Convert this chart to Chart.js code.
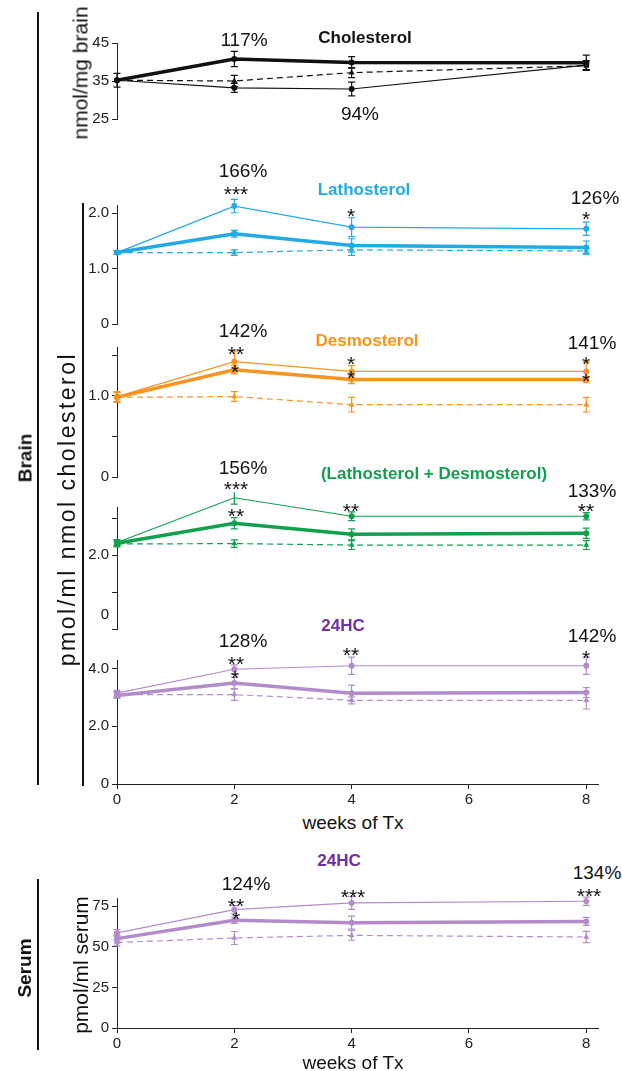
<!DOCTYPE html>
<html lang="en">
<head>
  <meta charset="UTF-8" />
  <title>Sterols over weeks of Tx</title>
  <script src="https://cdn.jsdelivr.net/npm/chart.js"></script>
  <style>
    html, body { margin: 0; padding: 0; background: #fff; }
    #page { position: relative; width: 622px; height: 1071px; overflow: hidden;
            font-family: "Liberation Sans", Arial, sans-serif; color: #111; }
    canvas { position: absolute; left: 0; }
    .t { position: absolute; white-space: nowrap; line-height: 1; transform: translate(-50%, -50%); }
    .pct { font-size: 19px; }
    .star { font-size: 21px; margin-top: 5px; }
    .ttl { font-size: 17px; font-weight: bold; }
    .ax { font-size: 19px; }
    .ax2 { font-size: 21px; }
    .wide { font-size: 23px; letter-spacing: 2.5px; }
    .rot { transform: translate(-50%, -50%) rotate(-90deg); }
    .side { font-size: 19px; font-weight: bold; }
    .vl { position: absolute; width: 1.5px; background: #111; }
  </style>
</head>
<body>
<div id="page"></div>

<script>
  // weeks of treatment
  const weeks = [0, 2, 4, 8];

  // Brain cholesterol (nmol/mg brain)
  const cholThick = [35.2, 40.8, 39.9, 39.8];
  const cholThickErr = [1.8, 2.0, 1.5, 2.0];
  const cholThin = [35.2, 33.2, 32.9, 39.2];
  const cholThinErr = [0, 1.2, 1.8, 1.2];
  const cholDash = [35.2, 35.0, 37.2, 39.0];
  const cholDashErr = [0, 1.5, 1.3, 1.0];

  // Lathosterol (pmol/ml / nmol cholesterol)
  const lathThin = [1.29, 2.13, 1.75, 1.72];
  const lathThinErr = [0.03, 0.12, 0.17, 0.12];
  const lathThick = [1.29, 1.63, 1.42, 1.38];
  const lathThickErr = [0.03, 0.06, 0.12, 0.12];
  const lathDash = [1.29, 1.29, 1.34, 1.32];
  const lathDashErr = [0.03, 0.05, 0.1, 0.05];

  // Desmosterol
  const desThin = [0.99, 1.42, 1.30, 1.30];
  const desThinErr = [0.06, 0.13, 0.07, 0.12];
  const desThick = [0.98, 1.32, 1.20, 1.20];
  const desThickErr = [0.06, 0.05, 0.05, 0.04];
  const desDash = [0.98, 0.99, 0.89, 0.89];
  const desDashErr = [0.06, 0.06, 0.09, 0.09];

  // Lathosterol + Desmosterol
  const ldThin = [2.34, 3.55, 3.05, 3.05];
  const ldThinErr = [0.08, 0.17, 0.12, 0.1];
  const ldThick = [2.32, 2.86, 2.56, 2.59];
  const ldThickErr = [0.08, 0.15, 0.15, 0.14];
  const ldDash = [2.30, 2.31, 2.27, 2.27];
  const ldDashErr = [0.08, 0.1, 0.12, 0.12];

  // Brain 24HC
  const hcThin = [3.15, 3.98, 4.10, 4.10];
  const hcThinErr = [0.1, 0.15, 0.3, 0.3];
  const hcThick = [3.07, 3.50, 3.15, 3.17];
  const hcThickErr = [0.1, 0.2, 0.28, 0.17];
  const hcDash = [3.10, 3.10, 2.90, 2.90];
  const hcDashErr = [0.1, 0.2, 0.12, 0.3];

  // Serum 24HC (pmol/ml serum)
  const srThin = [58.5, 72.8, 77.0, 78.0];
  const srThinErr = [2, 2.5, 4, 2.5];
  const srThick = [55.0, 66.3, 64.8, 65.6];
  const srThickErr = [2, 2, 4, 2.5];
  const srDash = [52.6, 55.4, 57.0, 56.0];
  const srDashErr = [2, 4, 3, 3.5];

  // tick labels
  const xTicks = [0, 2, 4, 6, 8];
  const cholTicks = [25, 35, 45];
  const lathTicks = [0, 1, 2];
  const desTicks = [0, 0.5, 1, 1.5];
  const ldTicks = [0, 1, 2, 3];
  const hcTicks = [0, 2, 4];
  const srTicks = [0, 25, 50, 75];

  const BLUE = '#22aae6', ORANGE = '#f7931e', GREEN = '#10a04e';
  const LILAC = '#b28bcb', PURPLE = '#7030a0', BLACK = '#111';

  Chart.defaults.font.family = '"Liberation Sans", Arial, sans-serif';
  Chart.defaults.font.size = 15;
  Chart.defaults.color = '#222';

  const page = document.getElementById('page');

  // error bars drawn with the chart's own scales
  const errorBars = {
    id: 'errorBars',
    afterDatasetsDraw(chart) {
      const ctx = chart.ctx;
      const ys = chart.scales.y;
      chart.data.datasets.forEach((ds, di) => {
        const meta = chart.getDatasetMeta(di);
        ctx.save();
        ctx.strokeStyle = ds.borderColor;
        ctx.lineWidth = 1.2;
        meta.data.forEach((pt, i) => {
          const e = ds.errors[i];
          if (!e) return;
          const v = ds.data[i].y;
          const y1 = ys.getPixelForValue(v + e), y2 = ys.getPixelForValue(v - e);
          ctx.beginPath();
          ctx.moveTo(pt.x, y1); ctx.lineTo(pt.x, y2);
          ctx.moveTo(pt.x - 3.5, y1); ctx.lineTo(pt.x + 3.5, y1);
          ctx.moveTo(pt.x - 3.5, y2); ctx.lineTo(pt.x + 3.5, y2);
          ctx.stroke();
        });
        ctx.restore();
      });
    }
  };

  function series(vals, errs, color, kind) {
    return {
      data: weeks.map((w, i) => ({ x: w, y: vals[i] })),
      errors: errs,
      borderColor: color,
      backgroundColor: color,
      borderWidth: kind === 'thick' ? 3.5 : 1.2,
      borderDash: kind === 'dash' ? [6, 4] : [],
      pointStyle: kind === 'dash' ? 'triangle' : 'circle',
      pointRadius: kind === 'dash' ? 3.5 : 3,
      pointBorderWidth: 0,
      tension: 0,
      clip: false
    };
  }

  const PAD = 15, XH = 22;

  function panel(top, bottom, yMin, yMax, ticks, shown, datasets, showX) {
    const h = bottom - top + PAD + (showX ? XH + 4 : PAD);
    const cv = document.createElement('canvas');
    cv.width = 622; cv.height = h;
    cv.style.top = (top - PAD) + 'px';
    page.appendChild(cv);
    const axisGrid = { drawOnChartArea: false, drawTicks: true, tickLength: 5, color: '#222', lineWidth: 1 };
    new Chart(cv, {
      type: 'line',
      data: { datasets },
      plugins: [errorBars],
      options: {
        responsive: false,
        animation: false,
        layout: { padding: { left: 77, right: 24, top: PAD, bottom: showX ? 4 : PAD } },
        plugins: { legend: { display: false }, tooltip: { enabled: false } },
        scales: {
          x: {
            type: 'linear', min: 0, max: 8.2, display: showX,
            afterBuildTicks: s => { s.ticks = xTicks.map(v => ({ value: v })); },
            afterFit: s => { if (showX) s.height = XH; },
            grid: axisGrid,
            border: { display: true, color: '#222', width: 1 },
            ticks: { padding: 2, font: { size: 15 } }
          },
          y: {
            type: 'linear', min: yMin, max: yMax,
            afterBuildTicks: s => { s.ticks = ticks.map(v => ({ value: v })); },
            afterFit: s => { s.width = 40; },
            grid: axisGrid,
            border: { display: true, color: '#222', width: 1 },
            ticks: {
              padding: 3,
              callback: v => shown.includes(v) ? (Number.isInteger(v) && v !== 0 && yMax < 10 ? v.toFixed(1) : String(v)) : ''
            }
          }
        }
      }
    });
  }

  panel(43, 119, 25, 45, cholTicks, [25, 35, 45], [
    series(cholDash, cholDashErr, BLACK, 'dash'),
    series(cholThin, cholThinErr, BLACK, 'thin'),
    series(cholThick, cholThickErr, BLACK, 'thick')
  ], false);

  panel(205, 324, 0, 2.15, lathTicks, [0, 1, 2], [
    series(lathDash, lathDashErr, BLUE, 'dash'),
    series(lathThin, lathThinErr, BLUE, 'thin'),
    series(lathThick, lathThickErr, BLUE, 'thick')
  ], false);

  panel(347, 477, 0, 1.6, desTicks, [0, 1], [
    series(desDash, desDashErr, ORANGE, 'dash'),
    series(desThin, desThinErr, ORANGE, 'thin'),
    series(desThick, desThickErr, ORANGE, 'thick')
  ], false);

  panel(507, 629, 0, 3.3, ldTicks, [2], [
    series(ldDash, ldDashErr, GREEN, 'dash'),
    series(ldThin, ldThinErr, GREEN, 'thin'),
    series(ldThick, ldThickErr, GREEN, 'thick')
  ], false);

  panel(660, 784, 0, 4.3, hcTicks, [0, 2, 4], [
    series(hcDash, hcDashErr, LILAC, 'dash'),
    series(hcThin, hcThinErr, LILAC, 'thin'),
    series(hcThick, hcThickErr, LILAC, 'thick')
  ], true);

  panel(898, 1028, 0, 80, srTicks, [0, 25, 50, 75], [
    series(srDash, srDashErr, LILAC, 'dash'),
    series(srThin, srThinErr, LILAC, 'thin'),
    series(srThick, srThickErr, LILAC, 'thick')
  ], true);

  // texts: x, y, text, class, color
  const texts = [
    [25, 458, 'Brain', 'side rot'],
    [24, 968, 'Serum', 'side rot'],
    [80, 73, 'nmol/mg brain', 'ax2 rot'],
    [67, 509, 'pmol/ml nmol cholesterol', 'wide rot'],
    [80, 965, 'pmol/ml serum', 'ax2 rot'],
    [353, 822, 'weeks of Tx', 'ax'],
    [353, 1062, 'weeks of Tx', 'ax'],
    [105, 613, '0', 'ax0'],

    [365, 37, 'Cholesterol', 'ttl', BLACK],
    [364, 189, 'Lathosterol', 'ttl', BLUE],
    [367, 340, 'Desmosterol', 'ttl', ORANGE],
    [434, 473, '(Lathosterol + Desmosterol)', 'ttl', GREEN],
    [343, 625, '24HC', 'ttl', PURPLE],
    [339, 860, '24HC', 'ttl', PURPLE],

    [244, 39, '117%', 'pct'], [360, 113, '94%', 'pct'],
    [243, 170, '166%', 'pct'], [595, 197, '126%', 'pct'],
    [243, 330, '142%', 'pct'], [592, 342, '141%', 'pct'],
    [243, 467, '156%', 'pct'], [592, 490, '133%', 'pct'],
    [243, 640, '128%', 'pct'], [592, 635, '142%', 'pct'],
    [246, 883, '124%', 'pct'], [597, 872, '134%', 'pct'],

    [236, 188, '***', 'star'], [351, 210, '*', 'star'], [586, 213, '*', 'star'],
    [236, 348, '**', 'star'], [235, 366, '*', 'star'],
    [351, 358, '*', 'star'], [351, 372, '*', 'star'],
    [586, 358, '*', 'star'], [586, 375, '*', 'star'],
    [236, 483, '***', 'star'], [236, 510, '**', 'star'],
    [351, 505, '**', 'star'], [586, 505, '**', 'star'],
    [236, 658, '**', 'star'], [235, 672, '*', 'star'],
    [351, 649, '**', 'star'], [586, 652, '*', 'star'],
    [236, 900, '**', 'star'], [236, 913, '*', 'star'],
    [353, 891, '***', 'star'], [589, 890, '***', 'star']
  ];

  texts.forEach(([x, y, s, cls, col]) => {
    const d = document.createElement('div');
    d.className = 't ' + cls;
    if (cls === 'ax0') d.style.fontSize = '15px';
    d.style.left = x + 'px';
    d.style.top = y + 'px';
    if (col) d.style.color = col;
    d.textContent = s;
    page.appendChild(d);
  });

  // bracket lines
  [[37, 12, 785], [37, 879, 1050], [82, 203, 786]].forEach(([x, y1, y2]) => {
    const l = document.createElement('div');
    l.className = 'vl';
    l.style.left = x + 'px';
    l.style.top = y1 + 'px';
    l.style.height = (y2 - y1) + 'px';
    page.appendChild(l);
  });
</script>
</body>
</html>
